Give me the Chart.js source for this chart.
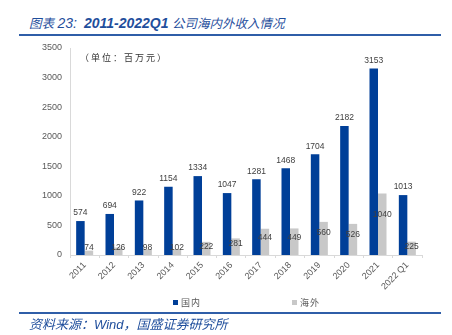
<!DOCTYPE html>
<html>
<head>
<meta charset="utf-8">
<script src="https://cdn.jsdelivr.net/npm/chart.js@4/dist/chart.umd.min.js"></script>
<style>
    body {
        margin: 0;
        background: #fff;
        font-family: "Liberation Sans", "Noto Sans CJK SC", sans-serif;
    }

    #wrap {
        position: relative;
        width: 452px;
        height: 335px;
        overflow: hidden;
    }

    #chart {
        position: absolute;
        left: 0;
        top: 0;
    }

    .title {
        position: absolute;
        left: 29px;
        top: 13px;
        font-size: 12.5px;
        font-style: italic;
        color: #1f4e9c;
        white-space: nowrap;
    }

    .title b {
        font-size: 14px;
    }

    .rule {
        position: absolute;
        left: 19px;
        width: 422px;
        height: 2px;
        background: #2f5ea8;
    }

    .unit {
        position: absolute;
        left: 80px;
        top: 51px;
        font-size: 9px;
        letter-spacing: 2px;
        color: #333;
        white-space: nowrap;
    }

    .legend {
        position: absolute;
        top: 296px;
        font-size: 9px;
        letter-spacing: 1px;
        color: #595959;
        white-space: nowrap;
    }

    .legend span {
        display: inline-block;
        width: 5px;
        height: 5px;
        margin-right: 3px;
        vertical-align: 1px;
    }

    .source {
        position: absolute;
        left: 29px;
        top: 314px;
        font-size: 13px;
        font-style: italic;
        color: #1f4e9c;
        white-space: nowrap;
    }
</style>
</head>
<body>
<div id="wrap">
    <div class="title">图表 <b style="font-weight: normal">23:</b>&nbsp; <b>2011-2022Q1</b> 公司海内外收入情况</div>
    <div class="rule" style="top: 34px"></div>
    <canvas id="chart" width="452" height="335"></canvas>
    <div class="unit">（单位：百万元）</div>
    <div class="legend" style="left: 173px"><span style="background: #003f98"></span>国内</div>
    <div class="legend" style="left: 292px"><span style="background: #c8c8c8"></span>海外</div>
    <div class="rule" style="top: 312px"></div>
    <div class="source">资料来源：Wind，国盛证券研究所</div>
</div>

<script>
const years = ["2011", "2012", "2013", "2014", "2015", "2016", "2017", "2018", "2019", "2020", "2021", "2022 Q1"];
const domestic = [574, 694, 922, 1154, 1334, 1047, 1281, 1468, 1704, 2182, 3153, 1013];
const overseas = [74, 126, 98, 102, 222, 281, 444, 449, 560, 526, 1040, 225];
const yTicks = [0, 500, 1000, 1500, 2000, 2500, 3000, 3500];

// value labels: domestic above the bar, overseas low inside the bar
const valueLabels = {
    id: "valueLabels",
    afterDatasetsDraw(chart) {
        const ctx = chart.ctx;
        const yScale = chart.scales.y;

        ctx.save();
        ctx.font = "8.5px 'Liberation Sans'";
        ctx.fillStyle = "#404040";
        ctx.textAlign = "center";
        ctx.textBaseline = "middle";

        chart.getDatasetMeta(0).data.forEach((bar, i) => {
            ctx.fillText(domestic[i], bar.x, bar.y - 8);
        });

        chart.getDatasetMeta(1).data.forEach((bar, i) => {
            const y = yScale.getPixelForValue(Math.max(120, overseas[i] * 0.66));
            ctx.fillText(overseas[i], bar.x, y);
        });

        ctx.restore();
    }
};

new Chart(document.getElementById("chart"), {
    type: "bar",
    data: {
        labels: years,
        datasets: [
            {
                label: "国内",
                data: domestic,
                backgroundColor: "#003f98",
                categoryPercentage: 0.58,
                barPercentage: 1
            },
            {
                label: "海外",
                data: overseas,
                backgroundColor: "#c8c8c8",
                categoryPercentage: 0.58,
                barPercentage: 1
            }
        ]
    },
    options: {
        responsive: false,
        animation: false,
        layout: {
            padding: { top: 48, right: 30, bottom: 35, left: 0 }
        },
        plugins: {
            legend: { display: false },
            tooltip: { enabled: false }
        },
        scales: {
            x: {
                afterFit(scale) {
                    scale.height = 45;
                },
                grid: {
                    drawOnChartArea: false,
                    offset: true,
                    tickLength: 3,
                    color: "#d9d9d9"
                },
                border: { color: "#d9d9d9" },
                ticks: {
                    minRotation: 45,
                    maxRotation: 45,
                    padding: 2,
                    color: "#595959",
                    font: { family: "'Liberation Sans'", size: 9 }
                }
            },
            y: {
                min: 0,
                max: 3500,
                afterFit(scale) {
                    scale.width = 70;
                },
                afterBuildTicks(scale) {
                    scale.ticks = yTicks.map((v) => ({ value: v }));
                },
                grid: { display: false, drawTicks: false },
                border: { color: "#d9d9d9" },
                ticks: {
                    padding: 8,
                    color: "#595959",
                    font: { family: "'Liberation Sans'", size: 9 },
                    callback: (v) => String(v)
                }
            }
        }
    },
    plugins: [valueLabels]
});
</script>
</body>
</html>
